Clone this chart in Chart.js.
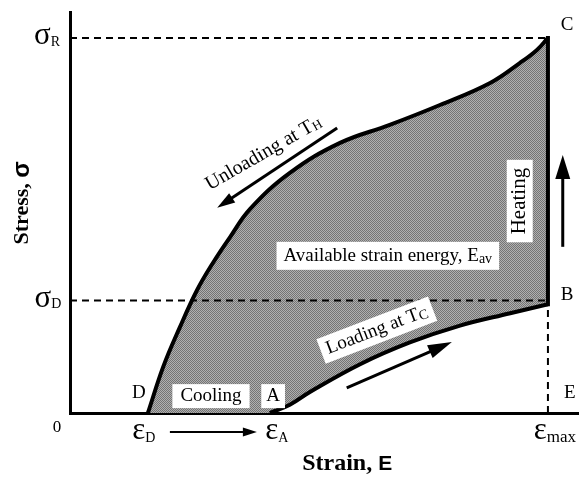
<!DOCTYPE html>
<html>
<head>
<meta charset="utf-8">
<script src="https://cdn.jsdelivr.net/npm/chart.js@4.4.0/dist/chart.umd.min.js"></script>
<style>body{margin:0;background:#fff}</style>
</head>
<body>
<canvas id="c" width="579" height="482"></canvas>
<script>
// strain / stress in arbitrary units (eps_max = 10, sigma_R = 10)
const unloadX = [1.63, 1.95, 2.30, 2.66, 2.99, 3.35, 3.77, 4.60, 5.65, 6.69, 7.74, 8.79, 9.41, 9.77, 10];
const unloadY = [0, 1.23, 2.29, 3.28, 4.00, 4.69, 5.44, 6.40, 7.20, 7.68, 8.21, 8.80, 9.33, 9.68, 10];
const loadX = [4.18, 4.60, 5.02, 6.07, 7.11, 8.16, 9.21, 10];
const loadY = [0, 0.22, 0.56, 1.30, 1.88, 2.33, 2.66, 2.90];
const sigmaR = 10, sigmaD = 3.0;
const epsD = 1.63, epsA = 4.18, epsMax = 10;

const serif = '"Liberation Serif", "Times New Roman", serif';
const sans = '"Liberation Sans", Arial, sans-serif';

const pts = (xs, ys) => xs.map((x, i) => ({x: x, y: ys[i]}));
const unload = pts(unloadX, unloadY);
const load = pts(loadX, loadY);
const B = load[load.length - 1], C = unload[unload.length - 1];
// closed outline D -> C -> B -> A -> D for the shaded area
const shape = unload.concat(load.slice().reverse(), [unload[0]]);

// stipple-like grey texture
const pc = document.createElement('canvas');
pc.width = 2; pc.height = 2;
const pctx = pc.getContext('2d');
pctx.fillStyle = '#b0b0b0'; pctx.fillRect(0, 0, 2, 2);
pctx.fillStyle = '#747474'; pctx.fillRect(0, 0, 1, 1); pctx.fillRect(1, 1, 1, 1);
const ctx = document.getElementById('c').getContext('2d');
const grey = ctx.createPattern(pc, 'repeat');

function font(p) { return (p.b ? 'bold ' : '') + p.s + 'px ' + (p.f || serif); }
function widthOf(c, parts) {
  let w = 0;
  parts.forEach(p => { c.font = font(p); w += c.measureText(p.t).width; });
  return w;
}
function text(c, parts, cx, cy, angle, box) {
  c.save();
  c.translate(cx, cy);
  c.rotate((angle || 0) * Math.PI / 180);
  const w = widthOf(c, parts);
  if (box) {
    c.fillStyle = '#fff';
    c.fillRect(-w / 2 - box[0], -box[1], w + 2 * box[0], 2 * box[1]);
  }
  c.fillStyle = '#000';
  c.textBaseline = 'middle';
  c.textAlign = 'left';
  let x = -w / 2;
  parts.forEach(p => {
    c.font = font(p);
    c.fillText(p.t, x, p.dy || 0);
    x += c.measureText(p.t).width;
  });
  c.restore();
}
function arrow(c, x1, y1, x2, y2, lw, hl, hw) {
  const a = Math.atan2(y2 - y1, x2 - x1);
  c.save();
  c.strokeStyle = '#000'; c.fillStyle = '#000'; c.lineWidth = lw;
  c.beginPath();
  c.moveTo(x1, y1);
  c.lineTo(x2 - hl * 0.8 * Math.cos(a), y2 - hl * 0.8 * Math.sin(a));
  c.stroke();
  c.translate(x2, y2); c.rotate(a);
  c.beginPath();
  c.moveTo(0, 0); c.lineTo(-hl, -hw / 2); c.lineTo(-hl, hw / 2); c.closePath();
  c.fill();
  c.restore();
}

const labels = {
  id: 'labels',
  afterDraw(chart) {
    const c = chart.ctx, xs = chart.scales.x, ys = chart.scales.y;
    const X = v => xs.getPixelForValue(v), Y = v => ys.getPixelForValue(v);
    const left = chart.chartArea.left, bottom = chart.chartArea.bottom;

    // tick labels
    text(c, [{t: 'σ', s: 31}, {t: 'R', s: 14, dy: 6}], left - 23, Y(sigmaR) - 2);
    text(c, [{t: 'σ', s: 31}, {t: 'D', s: 14, dy: 6}], left - 22, Y(sigmaD) - 2);
    text(c, [{t: '0', s: 17}], X(0) - 13, bottom + 15);
    text(c, [{t: 'ε', s: 31}, {t: 'D', s: 14, dy: 7}], X(epsD) - 4, bottom + 18);
    text(c, [{t: 'ε', s: 31}, {t: 'A', s: 14, dy: 7}], X(epsA) + 7, bottom + 18);
    text(c, [{t: 'ε', s: 31}, {t: 'max', s: 17, dy: 7}], X(epsMax) + 7, bottom + 18);
    arrow(c, X(2.09), bottom + 19, X(3.91), bottom + 19, 2, 14, 9);

    // axis titles
    text(c, [{t: 'Strain, ', s: 24, b: true}, {t: 'E', s: 21, b: true, f: sans}], X(5.8), bottom + 51);
    text(c, [{t: 'Stress, ', s: 22, b: true}, {t: 'σ', s: 24, b: true, f: sans}], 22, Y(5.6), -90);

    // point letters
    text(c, [{t: 'C', s: 19}], X(10.40), Y(10.35));
    text(c, [{t: 'B', s: 19}], X(10.40), Y(3.15));
    text(c, [{t: 'E', s: 19}], X(10.46), Y(0.53));
    text(c, [{t: 'D', s: 19}], X(1.44), Y(0.53));
    text(c, [{t: 'Cooling', s: 19}], X(2.95), Y(0.45), 0, [8, 12]);
    text(c, [{t: 'A', s: 19}], X(4.25), Y(0.45), 0, [5, 12]);

    text(c, [{t: 'Available strain energy, E', s: 19}, {t: 'av', s: 14, dy: 4}], X(6.65), Y(4.19), 0, [7, 14]);
    text(c, [{t: 'Heating', s: 21}], X(9.41), Y(5.65), -90, [8, 13]);
    arrow(c, X(10.31), Y(4.43), X(10.31), Y(6.88), 3, 24, 15);

    text(c, [{t: 'Unloading at T', s: 20}, {t: 'H', s: 13, dy: 3}], X(4.05), Y(6.92), -30);
    arrow(c, X(5.59), Y(7.60), X(3.08), Y(5.47), 3, 18, 11);

    text(c, [{t: 'Loading at T', s: 19}, {t: 'C', s: 14, dy: 3}], X(6.42), Y(2.21), -21, [6, 13]);
    arrow(c, X(5.79), Y(0.67), X(7.99), Y(1.89), 3, 24, 14);
  }
};

const dash = {borderColor: '#000', borderWidth: 2, borderDash: [7, 5], pointRadius: 0, showLine: true, order: 3};
const thick = {borderColor: '#000', borderWidth: 4, pointRadius: 0, showLine: true, order: 1, tension: 0.4};

new Chart(ctx, {
  type: 'scatter',
  data: {
    datasets: [
      Object.assign({data: unload}, thick),
      Object.assign({data: load}, thick),
      Object.assign({data: [B, C]}, thick, {borderCapStyle: 'square', tension: 0}),
      Object.assign({data: [{x: 0, y: sigmaR}, {x: epsMax, y: sigmaR}]}, dash),
      Object.assign({data: [{x: 0, y: sigmaD}, {x: epsMax, y: sigmaD}]}, dash),
      Object.assign({data: [{x: epsMax, y: 0}, B]}, dash),
      {data: shape, showLine: true, fill: 'shape', backgroundColor: grey, borderWidth: 0, pointRadius: 0, order: 10}
    ]
  },
  options: {
    responsive: false,
    animation: false,
    layout: {padding: {left: 70, right: 0, top: 12, bottom: 69}},
    plugins: {legend: {display: false}, tooltip: {enabled: false}},
    scales: {
      x: {type: 'linear', min: 0, max: 10.65, ticks: {display: false},
          grid: {display: false, drawTicks: false}, border: {color: '#000', width: 3}},
      y: {type: 'linear', min: 0, max: 10.69, ticks: {display: false},
          grid: {display: false, drawTicks: false}, border: {color: '#000', width: 3}}
    }
  },
  plugins: [labels]
});
</script>
</body>
</html>
